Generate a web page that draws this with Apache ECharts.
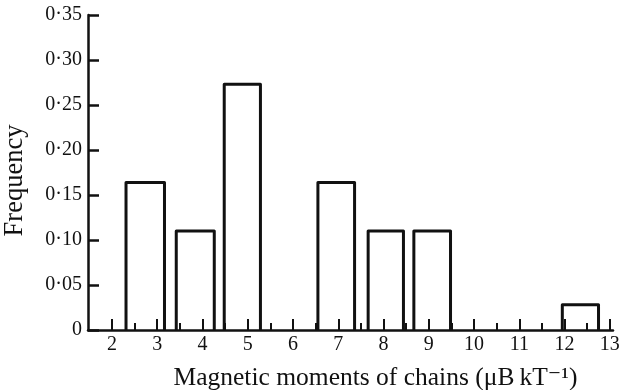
<!DOCTYPE html>
<html>
<head>
<meta charset="utf-8">
<script src="https://cdn.jsdelivr.net/npm/echarts@6/dist/echarts.min.js"></script>
<style>
html,body{margin:0;padding:0;background:#fff;}
#c{width:621px;height:390px;}
</style>
</head>
<body>
<div id="c"></div>
<script>
// Histogram bins: left edge, right edge, frequency
var binLeft  = [2.31, 3.42, 4.48, 6.55, 7.66, 8.67, 11.95];
var binRight = [3.16, 4.26, 5.28, 7.36, 8.44, 9.48, 12.75];
var frequency = [0.164, 0.11, 0.273, 0.164, 0.11, 0.11, 0.028];
var xMajorTicks = [2, 3, 4, 5, 6, 7, 8, 9, 10, 11, 12, 13];
var xMinorTicks = [2.5, 3.5, 4.5, 5.5, 6.5, 7.5, 8.5, 9.5, 10.5, 11.5, 12.5];
var yTicks = [0, 0.05, 0.10, 0.15, 0.20, 0.25, 0.30, 0.35];

var FONT = "'Liberation Serif','DejaVu Serif',serif";
var INK = '#111';

var data = binLeft.map(function (l, i) { return [l, binRight[i], frequency[i]]; });

var chart = echarts.init(document.getElementById('c'), null, {renderer: 'canvas'});
chart.setOption({
  backgroundColor: '#fff',
  animation: false,
  grid: {left: 88, right: 8, top: 15, bottom: 60, containLabel: false, outerBoundsMode: 'none'},
  xAxis: [{
    type: 'value', min: 1.47, max: 13.07,
    splitLine: {show: false},
    axisLine: {show: true, onZero: false, lineStyle: {color: INK, width: 2.5}},
    axisTick: {show: true, inside: true, length: 11, customValues: xMajorTicks, lineStyle: {color: INK, width: 2}},
    axisLabel: {show: true, customValues: xMajorTicks, margin: 5, color: INK, fontFamily: FONT, fontSize: 20},
    name: 'Magnetic moments of chains (\u03BCB\u2009kT\u207B\u00B9)',
    nameLocation: 'middle', nameGap: 35,
    nameTextStyle: {color: INK, fontFamily: FONT, fontSize: 25.5, padding: [0, 0, 0, 50]}
  }, {
    type: 'value', min: 1.47, max: 13.07, position: 'bottom',
    splitLine: {show: false},
    axisLine: {show: false},
    axisTick: {show: true, inside: true, length: 7, customValues: xMinorTicks, lineStyle: {color: INK, width: 2}},
    axisLabel: {show: false}
  }],
  yAxis: {
    type: 'value', min: 0, max: 0.35, interval: 0.05,
    splitLine: {show: false},
    axisLine: {show: true, lineStyle: {color: INK, width: 2.5}},
    axisTick: {show: true, inside: true, length: 11, lineStyle: {color: INK, width: 2.5}},
    axisLabel: {
      margin: 6, color: INK, fontFamily: FONT, fontSize: 20,
      customValues: yTicks,
      formatter: function (v) { return v === 0 ? '0' : v.toFixed(2).replace('.', '\u00B7'); }
    },
    name: 'Frequency', nameLocation: 'middle', nameGap: 59, nameRotate: 90,
    nameTextStyle: {color: INK, fontFamily: FONT, fontSize: 26.5, padding: [0, 16, 0, 0]}
  },
  series: [{
    type: 'custom',
    xAxisIndex: 0, yAxisIndex: 0,
    data: data,
    encode: {x: [0, 1], y: 2},
    renderItem: function (params, api) {
      var p0 = api.coord([api.value(0), 0]);
      var p1 = api.coord([api.value(0), api.value(2)]);
      var p2 = api.coord([api.value(1), api.value(2)]);
      var p3 = api.coord([api.value(1), 0]);
      return {
        type: 'polyline',
        shape: {points: [p0, p1, p2, p3]},
        style: {stroke: INK, lineWidth: 3, fill: null, lineJoin: 'round'}
      };
    },
    z: 5
  }]
});
</script>
</body>
</html>
